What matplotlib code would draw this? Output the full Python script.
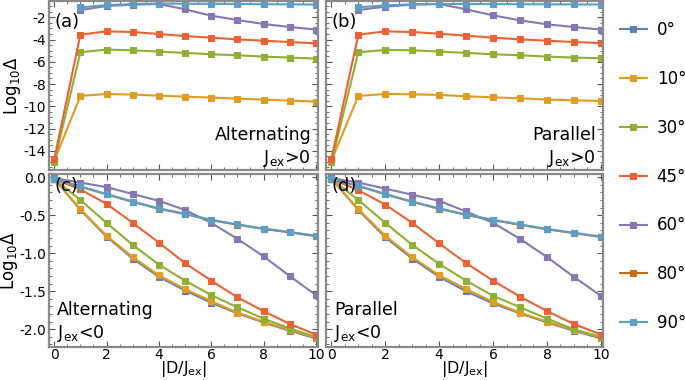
import numpy as np
import matplotlib
matplotlib.use("Agg")
import matplotlib.pyplot as plt
from matplotlib.ticker import MultipleLocator

nan = np.nan

d_ratio = [0, 1, 2, 3, 4, 5, 6, 7, 8, 9, 10]
angles = ["0°", "10°", "30°", "45°", "60°", "80°", "90°"]
colors = ["#5E81B5", "#E19C24", "#8FB032", "#EB6235", "#8778B3", "#C56E1A", "#5D9EC7"]

# J_ex > 0, alternating (a)
alt_pos = {
  "0°": [nan] * 11,
  "10°": [-14.9, -9.07, -8.89, -8.95, -9.04, -9.13, -9.22, -9.31, -9.40, -9.49, -9.57],
  "30°": [-15.05, -5.14, -4.90, -4.96, -5.08, -5.20, -5.32, -5.41, -5.53, -5.62, -5.71],
  "45°": [-14.75, -3.56, -3.26, -3.32, -3.50, -3.68, -3.83, -3.98, -4.10, -4.22, -4.34],
  "60°": [nan, -1.34, -0.98, -0.86, -0.80, -1.28, -1.85, -2.24, -2.60, -2.87, -3.10],
  "80°": [nan] * 11,
  "90°": [nan, -1.10, -0.90, -0.80, -0.76, -0.78, -0.79, -0.80, -0.82, -0.83, -0.85],
}
# J_ex > 0, parallel (b)
par_pos = {
  "0°": [nan] * 11,
  "10°": [-14.9, -9.07, -8.89, -8.92, -8.98, -9.10, -9.19, -9.28, -9.40, -9.46, -9.52],
  "30°": [-15.05, -5.14, -4.93, -4.96, -5.08, -5.20, -5.32, -5.41, -5.53, -5.62, -5.68],
  "45°": [-14.75, -3.56, -3.26, -3.32, -3.47, -3.65, -3.83, -3.98, -4.10, -4.22, -4.31],
  "60°": [nan, -1.34, -1.04, -0.86, -0.80, -1.28, -1.82, -2.27, -2.63, -2.87, -3.10],
  "80°": [nan] * 11,
  "90°": [nan, -1.10, -0.92, -0.83, -0.80, -0.80, -0.81, -0.82, -0.83, -0.84, -0.85],
}
# J_ex < 0, alternating (c)
alt_neg = {
  "0°": [-0.02, -0.43, -0.78, -1.07, -1.31, -1.49, -1.65, -1.79, -1.91, -2.02, -2.12],
  "10°": [-0.02, -0.42, -0.77, -1.05, -1.29, -1.47, -1.63, -1.78, -1.90, -2.01, -2.11],
  "30°": [-0.02, -0.30, -0.60, -0.89, -1.15, -1.36, -1.55, -1.71, -1.86, -1.99, -2.10],
  "45°": [-0.02, -0.16, -0.35, -0.60, -0.86, -1.13, -1.36, -1.58, -1.76, -1.93, -2.07],
  "60°": [-0.01, -0.07, -0.13, -0.22, -0.31, -0.43, -0.60, -0.81, -1.04, -1.30, -1.55],
  "80°": [-0.02, -0.125, -0.225, -0.325, -0.415, -0.485, -0.565, -0.625, -0.68, -0.725, -0.775],
  "90°": [-0.02, -0.12, -0.22, -0.32, -0.41, -0.48, -0.56, -0.62, -0.675, -0.72, -0.77],
}
# J_ex < 0, parallel (d)
par_neg = {
  "0°": [-0.02, -0.43, -0.79, -1.07, -1.31, -1.50, -1.66, -1.79, -1.91, -2.02, -2.12],
  "10°": [-0.02, -0.42, -0.77, -1.05, -1.29, -1.47, -1.64, -1.78, -1.90, -2.01, -2.11],
  "30°": [-0.02, -0.30, -0.60, -0.89, -1.14, -1.36, -1.56, -1.71, -1.86, -2.00, -2.10],
  "45°": [-0.02, -0.17, -0.36, -0.60, -0.87, -1.13, -1.36, -1.57, -1.76, -1.93, -2.07],
  "60°": [-0.01, -0.07, -0.15, -0.23, -0.31, -0.45, -0.60, -0.81, -1.05, -1.31, -1.56],
  "80°": [-0.02, -0.115, -0.225, -0.325, -0.415, -0.495, -0.565, -0.625, -0.685, -0.735, -0.785],
  "90°": [-0.02, -0.11, -0.22, -0.32, -0.41, -0.49, -0.56, -0.62, -0.68, -0.73, -0.78],
}

plt.rcParams["font.family"] = ["DejaVu Sans"]
plt.rcParams["axes.unicode_minus"] = False
W, H = 685, 380
fig = plt.figure(figsize=(W / 100, H / 100), dpi=100)


def px_axes(x0, y0, x1, y1):
  return fig.add_axes([x0 / W, 1 - y1 / H, (x1 - x0) / W, (y1 - y0) / H])


ax_a = px_axes(49, 1, 318, 170)
ax_b = px_axes(326, 1, 603, 170)
ax_c = px_axes(49, 174, 318, 347)
ax_d = px_axes(326, 174, 603, 347)

panels = [
  (ax_a, alt_pos, "(a)", "Alternating\nJ$_\\mathregular{ex}$>0", "right"),
  (ax_b, par_pos, "(b)", "Parallel\nJ$_\\mathregular{ex}$>0", "right"),
  (ax_c, alt_neg, "(c)", "Alternating\nJ$_\\mathregular{ex}$<0", "left"),
  (ax_d, par_neg, "(d)", "Parallel\nJ$_\\mathregular{ex}$<0", "left"),
]

handles = []
for ax, data, tag, note, side in panels:
  for name, col in zip(angles, colors):
    ln, = ax.plot(d_ratio, data[name], color=col, lw=1.5, marker="s", ms=4.5,
                  mec=col, mew=0.8, label=name)
    if ax is ax_a:
      handles.append(ln)
  ax.set_xlim(-0.2, 10.08)
  ax.xaxis.set_major_locator(MultipleLocator(2))
  ax.xaxis.set_minor_locator(MultipleLocator(0.5))
  ax.tick_params(which="both", direction="in", top=True, right=True,
                 labelsize=10, color="#555555", pad=2)
  ax.tick_params(axis="x", pad=1)
  ax.tick_params(which="major", length=4)
  ax.tick_params(which="minor", length=2)
  for sp in ax.spines.values():
    sp.set_color("#8a8a8a")
    sp.set_linewidth(1.6)
  ty = 0.93 if ax in (ax_a, ax_b) else 0.98
  ax.text(0.02, ty, tag, transform=ax.transAxes, fontsize=13, va="top", ha="left")
  if side == "right":
    ax.text(0.975, 0.005, note, transform=ax.transAxes, fontsize=12.5,
            va="bottom", ha="right", multialignment="right", linespacing=1.3)
  else:
    ax.text(0.03, 0.02, note, transform=ax.transAxes, fontsize=12.5,
            va="bottom", ha="left", linespacing=1.25)

for ax in (ax_a, ax_b):
  ax.set_ylim(-15.73, -0.53)
  ax.yaxis.set_major_locator(MultipleLocator(2))
  ax.yaxis.set_minor_locator(MultipleLocator(0.5))
  ax.tick_params(labelbottom=False)
for ax in (ax_c, ax_d):
  ax.set_ylim(-2.233, 0.043)
  ax.yaxis.set_major_locator(MultipleLocator(0.5))
  ax.yaxis.set_minor_locator(MultipleLocator(0.1))
  ax.set_xlabel("|D/J$_\\mathregular{ex}$|", fontsize=11.5, labelpad=-2.5)
ax_b.tick_params(labelleft=False)
ax_d.tick_params(labelleft=False)
ax_c.yaxis.set_major_formatter(plt.FormatStrFormatter("%.1f"))

for ax, lx in ((ax_a, -0.097), (ax_c, -0.107)):
  ax.set_ylabel("Log$_{10}$Δ", fontsize=12)
  ax.yaxis.set_label_coords(lx, 0.5)

fig.legend(handles=handles, labels=angles, loc="upper left",
           bbox_to_anchor=(605 / W, 1 - 6 / H), frameon=False, fontsize=12,
           handlelength=1.6, handletextpad=0.6, labelspacing=1.85)

fig.savefig("out.png", dpi=100)
